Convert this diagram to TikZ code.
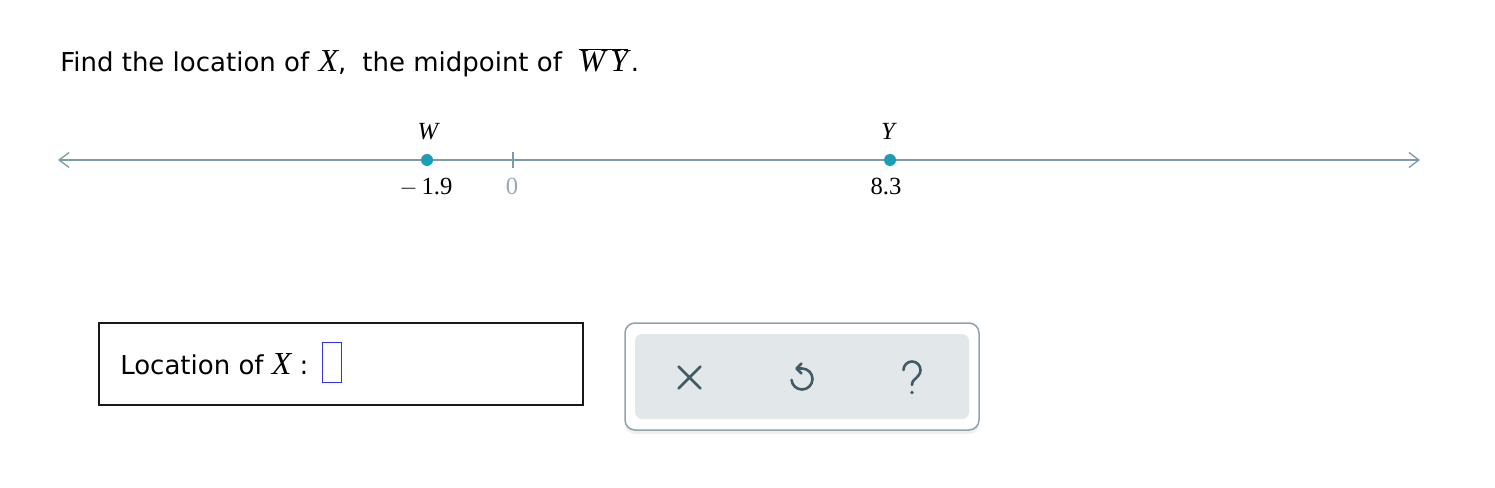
\documentclass[tikz,border=0pt]{standalone}
\usepackage{fontspec}
\setmainfont{DejaVu Sans}
\newfontfamily\tms{Liberation Serif}
\usetikzlibrary{arrows.meta,shadows}
\definecolor{axisc}{HTML}{7F9CA6}
\definecolor{dotc}{HTML}{1B9DB4}
\definecolor{zeroc}{HTML}{9AABB0}
\definecolor{iconc}{HTML}{3F5B66}
\definecolor{panelb}{HTML}{8FA3AA}
\definecolor{panelf}{HTML}{E2E7E9}
\definecolor{inbox}{HTML}{3333DD}
\newcommand{\mv}[1]{{\tms\itshape\fontsize{24}{26}\selectfont #1}}
\tikzset{
  axis/.style={draw=axisc, line width=1.125pt},
  ptdot/.style={circle, fill=dotc, inner sep=0pt, minimum size=9pt},
  numlab/.style={font=\tms\fontsize{18.5}{20}\selectfont, anchor=base, inner sep=0pt},
  ptlab/.style={font=\tms\itshape\fontsize{18.5}{20}\selectfont, anchor=base, inner sep=0pt},
  txt/.style={font=\fontsize{19.5}{22}\selectfont, anchor=base west, inner sep=0pt},
  icon/.style={draw=iconc, line width=1.95pt, line cap=round, line join=round},
}
\begin{document}
\begin{tikzpicture}[x=0.75pt, y=-0.75pt]
\useasboundingbox[fill=white] (0,0) rectangle (1495,488);
% title
\node[txt] (title) at (60,72) {Find the location of\kern7pt\mv{X},\kern12pt the midpoint of \ $\overline{\hbox{\mv{W\kern4pt Y}}}$\kern2pt.};
% number line
\coordinate (L) at (58,160);
\coordinate (R) at (1420,160);
\draw[axis, {Straight Barb[length=7.5pt,width=11.25pt,line width=1pt]}-{Straight Barb[length=7.5pt,width=11.25pt,line width=1pt]}] (L) -- (R);
\coordinate (Z) at (513,160);
\draw[axis] ([yshift=6pt]Z) -- ([yshift=-6pt]Z);
\node[numlab, text=zeroc] (zl) at (512,195) {0};
\node[ptdot] (W) at (427,160) {};
\node[ptdot] (Y) at (890,160) {};
\node[ptlab] (wl) at (428,140) {W};
\node[ptlab] (yl) at (888,140) {Y};
\node[numlab] (wn) at (426,195) {$-$\,1.9};
\node[numlab] (yn) at (886,195) {8.3};
% answer box
\draw[line width=1.125pt, draw=black!90] (99,323) rectangle (583,405);
\node[txt] (loc) at (120,374) {Location of \mv{X} :};
\node[draw=inbox, line width=1.125pt, inner sep=0pt, minimum width=14.25pt, minimum height=30pt] (ans) at (332,362.5) {};
% button panel
\draw[draw=panelb, line width=1.125pt, rounded corners=7.5pt, fill=white,
      drop shadow={opacity=0.12, shadow xshift=0pt, shadow yshift=-3pt}] (625,323) rectangle (979,430);
\fill[panelf, rounded corners=5.25pt] (635,334) rectangle (969,419);
% x icon
\draw[icon] (678.5,366.5) -- (700.5,388.5) (700.5,366.5) -- (678.5,388.5);
% undo icon
\draw[icon] (797,368.5) -- (802,368.5) arc[start angle=-90, end angle=175, radius=10.5];
\draw[icon] (801.5,363.5) -- (796.5,368.5) -- (801.5,373.5);
% question mark
\draw[icon] (903.5,370) arc[start angle=-180, end angle=40, radius=8.5] .. controls (915,380) and (912,380) .. (912,385);
\fill[iconc] (912,392.5) circle[radius=1.9];
\end{tikzpicture}
\end{document}
